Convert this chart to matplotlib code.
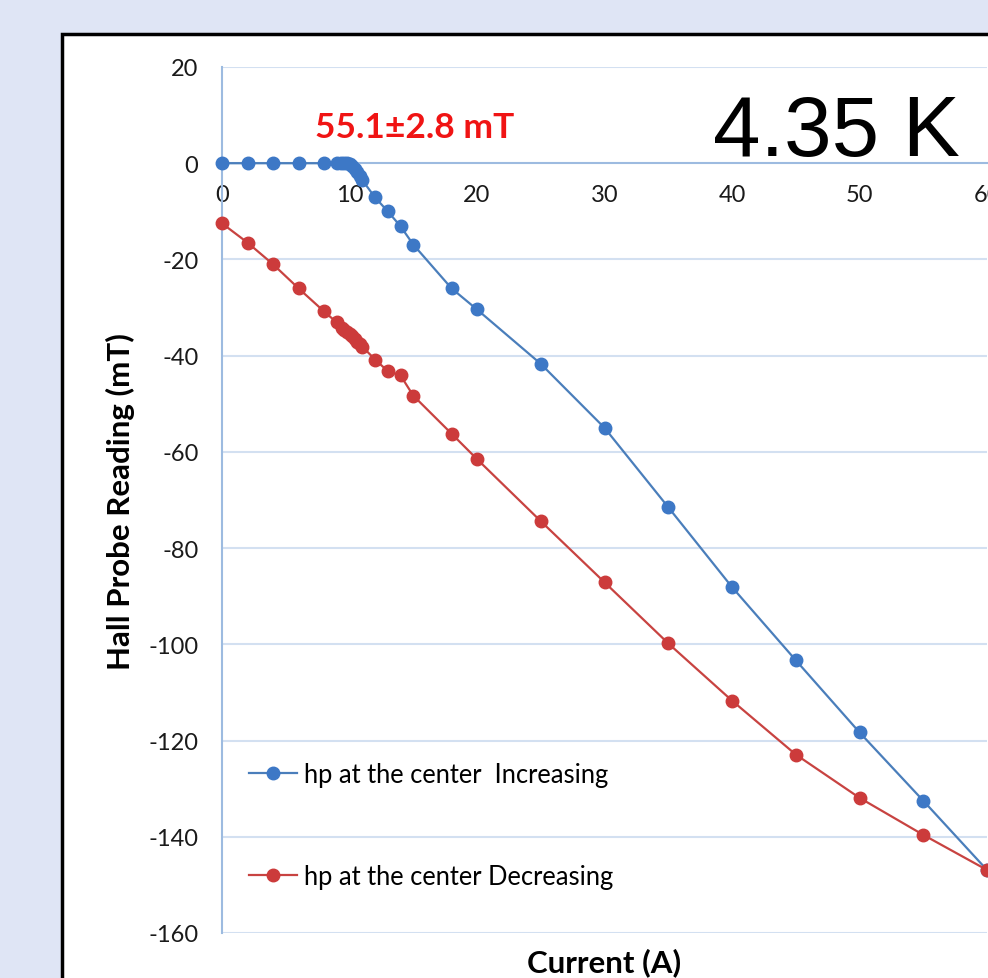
import matplotlib
matplotlib.use('Agg')
import matplotlib.pyplot as plt
from matplotlib.patches import Rectangle

# Hall probe reading vs current, 4.35 K
inc_current = [0, 2, 4, 6, 8, 9, 9.3, 9.6, 9.8, 10, 10.2, 10.4, 10.6, 10.8, 11,
               12, 13, 14, 15, 18, 20, 25, 30, 35, 40, 45, 50, 55, 60]
inc_field = [0, 0, 0, 0, 0, 0, 0, 0, 0, -0.2, -0.6, -1.2, -1.9, -2.6, -3.5,
             -7.1, -10, -13.1, -16.9, -26, -30.4, -41.7, -55, -71.5, -88.1,
             -103.3, -118.3, -132.5, -146.9]

dec_current = [60, 55, 50, 45, 40, 35, 30, 25, 20, 18, 15, 14, 13, 12, 11,
               10.8, 10.6, 10.4, 10.2, 10, 9.8, 9.6, 9.4, 9, 8, 6, 4, 2, 0]
dec_field = [-146.9, -139.6, -131.9, -122.9, -111.7, -99.8, -87.1, -74.4, -61.5,
             -56.2, -48.3, -44.1, -43.2, -40.8, -38.1, -37.6, -37.1, -36.6, -36.0,
             -35.5, -35.1, -34.6, -34.2, -33.1, -30.8, -26, -21, -16.5, -12.5]

x_ticks = [0, 10, 20, 30, 40, 50, 60]
y_ticks = [20, 0, -20, -40, -60, -80, -100, -120, -140, -160]

plt.rcParams['font.family'] = ['Lato', 'DejaVu Sans']
plt.rcParams['axes.unicode_minus'] = False

fig = plt.figure(figsize=(9.88, 9.79), dpi=100, facecolor='#dfe5f5')
W, H = 988, 979

# white panel with black frame (runs off the right and bottom edges)
fig.patches.append(Rectangle((62 / W, -0.05), 1.1, (979 - 35) / H + 0.05,
                             transform=fig.transFigure, facecolor='white',
                             edgecolor='black', linewidth=2.5, zorder=0))

ax = fig.add_axes([222 / W, 45 / H, 765 / W, 866 / H])
ax.set_zorder(2)
ax.set_facecolor('none')
ax.set_xlim(0, 60)
ax.set_ylim(-160, 20)

grid_c = '#d3e0f1'
axis_c = '#9dbbe0'
for yv in y_ticks:
    if yv != 0:
        ax.axhline(yv, color=grid_c, lw=1.5, zorder=1)

for s in ['top', 'right']:
    ax.spines[s].set_visible(False)
ax.spines['bottom'].set_position(('data', 0))
ax.spines['bottom'].set_color(axis_c)
ax.spines['bottom'].set_linewidth(1.5)
ax.spines['left'].set_color(axis_c)
ax.spines['left'].set_linewidth(1.5)

ax.set_xticks(x_ticks)
ax.set_yticks(y_ticks)
ax.tick_params(axis='both', length=0, labelsize=17, colors='#1a1a1a')
ax.tick_params(axis='x', pad=15)
ax.tick_params(axis='y', pad=17)
for lab in ax.get_xticklabels():
    lab.set_clip_on(False)

ax.plot(inc_current, inc_field, color='#4a7ebb', lw=1.6, marker='o', ms=9,
        mfc='#3d78c6', mec='#3d78c6', label='hp at the center  Increasing',
        zorder=3, clip_on=False)
ax.plot(dec_current, dec_field, color='#c84341', lw=1.6, marker='o', ms=9,
        mfc='#cc3b3b', mec='#cc3b3b', label='hp at the center Decreasing',
        zorder=3, clip_on=False)

leg = ax.legend(loc='upper left', bbox_to_anchor=(0.035, 0.197), frameon=False,
                fontsize=18.4, labelspacing=3.0, handlelength=1.9,
                handletextpad=0.25, borderaxespad=0, borderpad=0)

ax.text(7.3, 7.5, '55.1\u00b12.8 mT', color='#f01414', fontsize=25.5,
        fontweight='bold', ha='left', va='center')
ax.text(38.5, 6.3, '4.35 K', family='Liberation Sans', fontsize=61.5,
        ha='left', va='center', color='black')

fig.text(604 / W, 1 - 963 / H, 'Current (A)', fontsize=22.5, fontweight='bold',
         ha='center', va='center')
fig.text(120 / W, 1 - 502 / H, 'Hall Probe Reading (mT)', fontsize=22.5,
         fontweight='bold', ha='center', va='center', rotation=90)

fig.savefig('out.png', dpi=100, facecolor=fig.get_facecolor())
